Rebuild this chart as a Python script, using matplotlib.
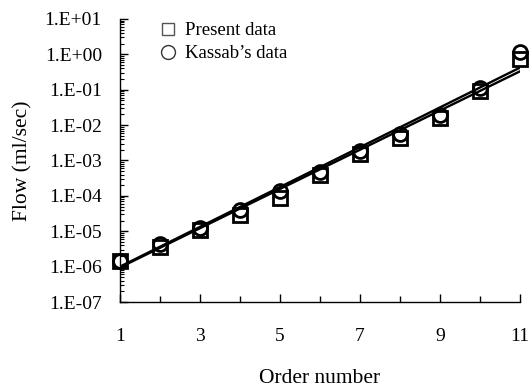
import matplotlib
matplotlib.use("Agg")
import matplotlib.pyplot as plt
from matplotlib.ticker import FixedLocator, FuncFormatter, LogLocator, NullFormatter
import numpy as np

plt.rcParams['font.family'] = ['Liberation Serif', 'DejaVu Serif']

orders = [1, 2, 3, 4, 5, 6, 7, 8, 9, 10, 11]
present_flow = [1.4e-6, 3.5e-6, 1.1e-5, 2.9e-5, 8.6e-5, 3.85e-4, 1.55e-3, 4.3e-3, 1.6e-2, 9.5e-2, 0.74]
kassab_flow = [1.4e-6, 4.5e-6, 1.25e-5, 3.9e-5, 1.35e-4, 4.7e-4, 1.9e-3, 5.6e-3, 1.95e-2, 1.1e-1, 1.15]

fit_orders = [1, 11]
fit_present = [0.95e-6, 0.33]
fit_kassab = [1.0e-6, 0.42]

x_major_ticks = [1, 3, 5, 7, 9, 11]
x_minor_ticks = [2, 4, 6, 8, 10]
y_ticks = [1e-7, 1e-6, 1e-5, 1e-4, 1e-3, 1e-2, 1e-1, 1e0, 1e1]

fig = plt.figure(figsize=(5.31, 3.87), dpi=100)
ax = fig.add_axes([0.226, 0.2196, 0.753, 0.7314])

ax.plot(fit_orders, fit_kassab, color='black', lw=1.7, zorder=2)
ax.plot(fit_orders, fit_present, color='black', lw=1.7, zorder=2)

ax.plot(orders, present_flow, linestyle='none', marker='s', ms=9.5, mfc='none',
        mec='black', mew=2.0, zorder=3, clip_on=False)
ax.plot(orders, kassab_flow, linestyle='none', marker='o', ms=10, mfc='none',
        mec='black', mew=2.0, zorder=3, clip_on=False)

ax.set_yscale('log')
ax.set_xlim(1, 11)
ax.set_ylim(1e-7, 1e1)

ax.xaxis.set_major_locator(FixedLocator(x_major_ticks))
ax.xaxis.set_minor_locator(FixedLocator(x_minor_ticks))
ax.yaxis.set_major_locator(FixedLocator(y_ticks))
ax.yaxis.set_minor_locator(LogLocator(base=10, subs=np.arange(2, 10), numticks=20))
ax.yaxis.set_minor_formatter(NullFormatter())


def fmt(v, pos):
    e = int(round(np.log10(v)))
    sign = '+' if e >= 0 else '-'
    return f"1.E{sign}{abs(e):02d}"


ax.yaxis.set_major_formatter(FuncFormatter(fmt))

for s in ['top', 'right']:
    ax.spines[s].set_visible(False)
for s in ['left', 'bottom']:
    ax.spines[s].set_linewidth(1.0)

ax.tick_params(axis='x', which='major', direction='in', length=6, width=1, pad=19, labelsize=14)
ax.tick_params(axis='x', which='minor', direction='in', length=4, width=1)
ax.tick_params(axis='y', which='major', direction='in', length=6, width=1, pad=13, labelsize=14)
ax.tick_params(axis='y', which='minor', direction='in', length=3, width=0.8)

ax.set_xlabel('Order number', fontsize=15.5, labelpad=17)
ax.set_ylabel('Flow (ml/sec)', fontsize=15.5, labelpad=9)

h1, = ax.plot([], [], linestyle='none', marker='s', ms=9, mfc='none', mec='#555555', mew=1.0)
h2, = ax.plot([], [], linestyle='none', marker='o', ms=10, mfc='none', mec='#333333', mew=1.0)
ax.legend([h1, h2], ['Present data', "Kassab\u2019s data"], loc='upper left',
          bbox_to_anchor=(0.073, 1.015), frameon=False, fontsize=13.5,
          handletextpad=0.3, labelspacing=0.3, handlelength=1.2, borderaxespad=0)

fig.savefig('out.png', dpi=100)
